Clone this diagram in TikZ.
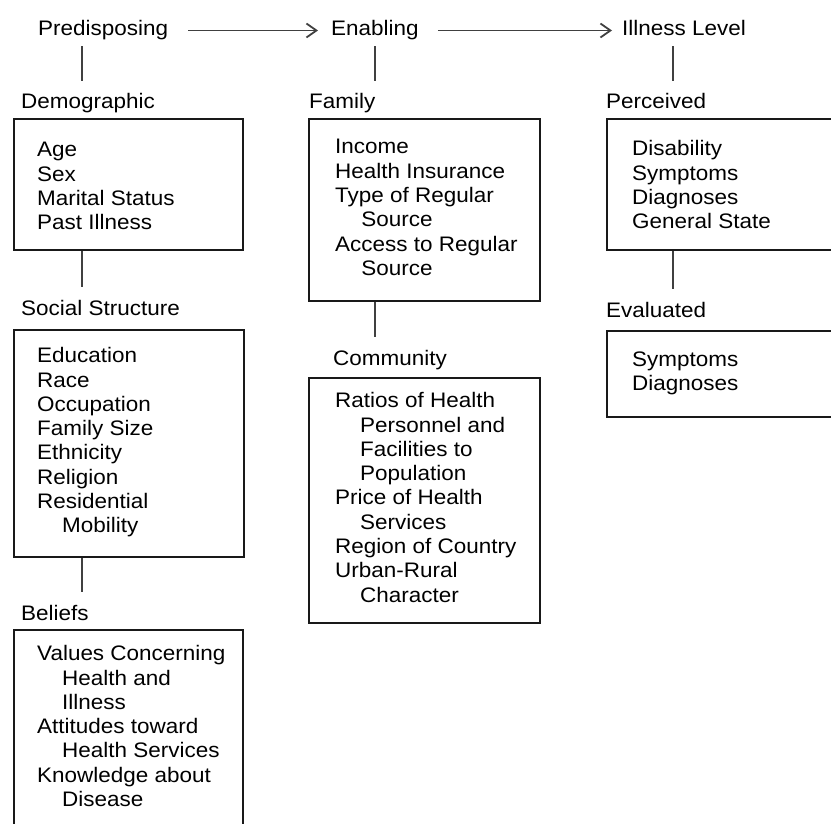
\documentclass[tikz,border=0pt]{standalone}
\usepackage{fontspec}
\setmainfont{Liberation Sans}[FakeStretch=1.07]
\usetikzlibrary{arrows.meta}
\tikzstyle{heading} = [inner sep=0pt, anchor=base west, text height=16pt, text depth=5pt]
\tikzstyle{group} = [heading]
\tikzstyle{panel} = [draw=black!90, line width=2.2pt, anchor=north west, inner sep=0pt]
\tikzstyle{items} = [inner sep=0pt, anchor=north west, align=left]
\tikzstyle{link} = [draw=black!75, line width=1.8pt, shorten >=12pt]
\tikzstyle{flow} = [draw=black!75, line width=1.8pt, -{Straight Barb[length=10pt, width=14pt]}]
\newcommand{\indentby}[1][25pt]{\hspace*{#1}}

\begin{document}
\begin{tikzpicture}[x=1pt, y=-1pt, font=\fontsize{21}{24.3}\selectfont]
    \useasboundingbox (0,0) rectangle (831,824);
    \clip (0,0) rectangle (831,824);
    % top row
    \node[heading] (pre) at (38,36) {Predisposing};
    \node[heading] (ena) at (331,36) {Enabling};
    \node[heading] (ill) at (622,36) {Illness Level};
    \draw[flow, shorten <=20pt, shorten >=13pt] (pre.east) -- (ena.west);
    \draw[flow, shorten <=19pt, shorten >=10pt] (ena.east) -- (ill.west);

    % group labels
    \node[group] (demoL) at (21,109) {Demographic};
    \node[group] (socL) at (21,315) {Social Structure};
    \node[group] (belL) at (21,620) {Beliefs};
    \node[group] (famL) at (309,109) {Family};
    \node[group] (comL) at (333,365) {Community};
    \node[group] (perL) at (606,109) {Perceived};
    \node[group] (evaL) at (606,317) {Evaluated};

    % boxes
    \node[panel, minimum width=229pt, minimum height=131pt] (demo) at (13,118) {};
    \node[panel, minimum width=230pt, minimum height=227pt] (soc) at (13,329) {};
    \node[panel, minimum width=229pt, minimum height=240pt] (bel) at (13,629) {};
    \node[panel, minimum width=231pt, minimum height=182pt] (fam) at (308,118) {};
    \node[panel, minimum width=231pt, minimum height=245pt] (com) at (308,377) {};
    \node[panel, minimum width=260pt, minimum height=131pt] (per) at (606,118) {};
    \node[panel, minimum width=260pt, minimum height=86pt] (eva) at (606,330) {};

    % box contents (top of first line)
    \node[items] (demoT) at (37,142.3) {Age\\Sex\\Marital Status\\Past Illness};
    \node[items] (socT) at (37,347.3) {Education\\Race\\Occupation\\Family Size\\Ethnicity\\Religion\\Residential\\\indentby Mobility};
    \node[items] (belT) at (37,645.3) {Values Concerning\\\indentby Health and\\\indentby Illness\\Attitudes toward\\\indentby Health Services\\Knowledge about\\\indentby Disease};
    \node[items] (famT) at (335,139.3) {Income\\Health Insurance\\Type of Regular\\\indentby[20pt] Source\\Access to Regular\\\indentby[20pt] Source};
    \node[items] (comT) at (335,392.3) {Ratios of Health\\\indentby Personnel and\\\indentby Facilities to\\\indentby Population\\Price of Health\\\indentby Services\\Region of Country\\Urban-Rural\\\indentby Character};
    \node[items] (perT) at (632,140.3) {Disability\\Symptoms\\Diagnoses\\General State};
    \node[items] (evaT) at (632,351.3) {Symptoms\\Diagnoses};

    % connectors
    \coordinate (colA) at (82,0);
    \coordinate (colB) at (375,0);
    \coordinate (colC) at (673,0);
    \draw[link, shorten <=5pt] (pre.south -| colA) -- (demoL.north -| colA);
    \draw[link] (demo.south -| colA) -- (socL.north -| colA);
    \draw[link] (soc.south -| colA) -- (belL.north -| colA);
    \draw[link, shorten <=5pt] (ena.south -| colB) -- (famL.north -| colB);
    \draw[link] (fam.south -| colB) -- (comL.north -| colB);
    \draw[link, shorten <=5pt] (ill.south -| colC) -- (perL.north -| colC);
    \draw[link] (per.south -| colC) -- (evaL.north -| colC);
\end{tikzpicture}
\end{document}
